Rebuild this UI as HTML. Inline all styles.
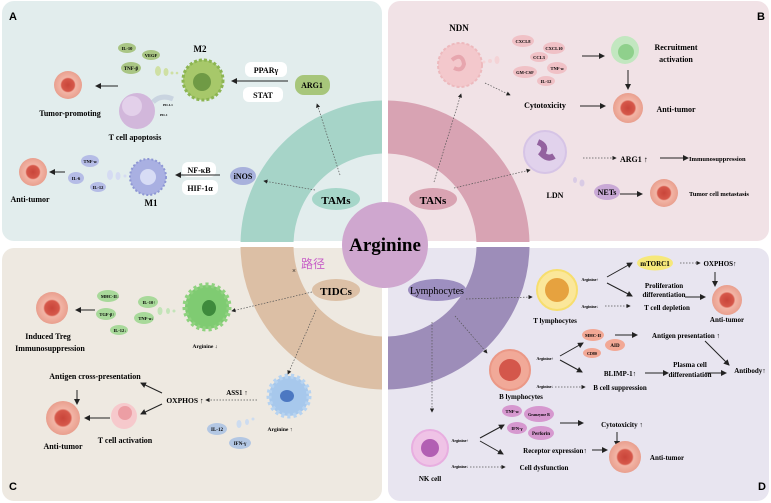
<!DOCTYPE html>
<html><head><meta charset="utf-8"><style>
body{margin:0;background:#fff;}
svg{display:block;font-family:"Liberation Serif",serif;}
.b{font-weight:bold;}
</style></head><body>
<svg width="771" height="503" viewBox="0 0 771 503" xmlns="http://www.w3.org/2000/svg">
<defs>
<marker id="ar" markerWidth="6" markerHeight="6" refX="5" refY="3" orient="auto"><path d="M0,0 L6,3 L0,6z" fill="#222"/></marker>
<radialGradient id="tum"><stop offset="0" stop-color="#c9453a"/><stop offset="0.45" stop-color="#d6584a"/><stop offset="0.55" stop-color="#f2b5a6"/><stop offset="1" stop-color="#e99f8e"/></radialGradient>
<clipPath id="cA"><rect x="0" y="0" width="382" height="242"/></clipPath>
<clipPath id="cB"><rect x="388" y="0" width="383" height="242"/></clipPath>
<clipPath id="cC"><rect x="0" y="247" width="382" height="256"/></clipPath>
<clipPath id="cD"><rect x="388" y="247" width="383" height="256"/></clipPath>
</defs>
<!-- panels -->
<rect x="2" y="1" width="380" height="240" rx="12" fill="#e2eded"/>
<rect x="388" y="1" width="381" height="240" rx="12" fill="#f1e2e6"/>
<rect x="2" y="248" width="380" height="253" rx="12" fill="#eee9e1"/>
<rect x="388" y="248" width="381" height="253" rx="12" fill="#e8e5f0"/>
<!-- ring -->
<g clip-path="url(#cA)"><circle cx="385" cy="245" r="118" fill="none" stroke="#a6d4c8" stroke-width="53"/></g>
<g clip-path="url(#cB)"><circle cx="385" cy="245" r="118" fill="none" stroke="#d8a3b3" stroke-width="53"/></g>
<g clip-path="url(#cC)"><circle cx="385" cy="245" r="118" fill="none" stroke="#dcbfa5" stroke-width="53"/></g>
<g clip-path="url(#cD)"><circle cx="385" cy="245" r="118" fill="none" stroke="#9d8db9" stroke-width="53"/></g>
<circle cx="385" cy="245" r="43" fill="#cfa7cf"/>
<text x="385" y="251" text-anchor="middle" class="b" font-size="19">Arginine</text>
<ellipse cx="336" cy="199" rx="24" ry="11" fill="#a6d6c9"/><text x="336" y="204" text-anchor="middle" class="b" font-size="11">TAMs</text>
<ellipse cx="433" cy="199" rx="24" ry="11" fill="#d9a3b2"/><text x="433" y="204" text-anchor="middle" class="b" font-size="11">TANs</text>
<ellipse cx="336" cy="290" rx="24" ry="11" fill="#dcc0a6"/><text x="336" y="295" text-anchor="middle" class="b" font-size="11">TIDCs</text>
<ellipse cx="437" cy="290" rx="29" ry="11" fill="#9d8fc0"/><text x="437" y="294" text-anchor="middle" font-size="10">Lymphocytes</text>
<text x="301" y="268" font-size="12" fill="#c85fc8" font-family="'Noto Sans CJK SC',sans-serif">路径</text>
<text x="292" y="273" font-size="7">×</text>

<g font-family="Liberation Sans,sans-serif" font-weight="bold" font-size="11">
<text x="9" y="20">A</text><text x="757" y="20">B</text><text x="9" y="490">C</text><text x="758" y="490">D</text></g>

<!-- Panel A -->
<g class="b" font-size="8">
<text x="200" y="52" text-anchor="middle" font-size="9">M2</text>
<circle cx="203" cy="80" r="20" fill="#a7c86a" stroke="#8cb552" stroke-width="3" stroke-dasharray="3 2"/>
<circle cx="202" cy="82" r="9" fill="#6f9a45"/>
<rect x="245" y="62" width="42" height="15" rx="6" fill="#fff"/><text x="266" y="73" text-anchor="middle">PPARγ</text>
<rect x="243" y="87" width="40" height="15" rx="6" fill="#fff"/><text x="263" y="98" text-anchor="middle">STAT</text>
<rect x="295" y="75" width="35" height="20" rx="9" fill="#a7c67b"/><text x="312" y="88" text-anchor="middle">ARG1</text>
<line x1="288" y1="81" x2="232" y2="81" stroke="#222" marker-end="url(#ar)"/>
<ellipse cx="127" cy="48" rx="9" ry="5" fill="#a9c584"/><text x="127" y="50" text-anchor="middle" font-size="4.5">IL-10</text>
<ellipse cx="151" cy="55" rx="9" ry="5" fill="#a9c584"/><text x="151" y="57" text-anchor="middle" font-size="4.5">VEGF</text>
<ellipse cx="131" cy="68" rx="10" ry="6" fill="#a9c584"/><text x="131" y="70" text-anchor="middle" font-size="5">TNF-β</text>
<ellipse cx="158" cy="71" rx="3" ry="5" fill="#cfe0a4"/><ellipse cx="166" cy="72" rx="2.5" ry="4" fill="#cfe0a4"/><circle cx="172" cy="73" r="1.5" fill="#cfe0a4"/><circle cx="177" cy="73" r="1.3" fill="#cfe0a4"/>
<circle cx="68" cy="85" r="14" fill="url(#tum)"/>
<line x1="118" y1="86" x2="96" y2="86" stroke="#222" marker-end="url(#ar)"/>
<text x="70" y="116" text-anchor="middle">Tumor-promoting</text>
<circle cx="137" cy="111" r="18" fill="#d2b7db"/><circle cx="132" cy="106" r="10" fill="#e3d0ea"/>
<path d="M153,102 q8,-8 20,-3" stroke="#c9d4e0" stroke-width="5" fill="none"/>
<text x="163" y="106" font-size="3.5">PD-L1</text><text x="160" y="116" font-size="3.5">PD-1</text>
<text x="135" y="140" text-anchor="middle">T cell apoptosis</text>
<circle cx="148" cy="177" r="18" fill="#a9b0e2" stroke="#8e97d4" stroke-width="2" stroke-dasharray="2 2"/><circle cx="148" cy="177" r="8" fill="#d7dcf5"/>
<text x="151" y="206" text-anchor="middle" font-size="9">M1</text>
<rect x="182" y="162" width="34" height="15" rx="6" fill="#fff"/><text x="199" y="173" text-anchor="middle">NF-κB</text>
<rect x="182" y="180" width="36" height="15" rx="6" fill="#fff"/><text x="200" y="191" text-anchor="middle">HIF-1α</text>
<ellipse cx="243" cy="176" rx="13" ry="9" fill="#a8b1dc"/><text x="243" y="179" text-anchor="middle">iNOS</text>
<line x1="220" y1="175" x2="176" y2="175" stroke="#222" marker-end="url(#ar)"/>
<ellipse cx="90" cy="161" rx="9" ry="6" fill="#b5bce6"/><text x="90" y="163" text-anchor="middle" font-size="4.5">TNF-α</text>
<ellipse cx="76" cy="178" rx="8" ry="6" fill="#b5bce6"/><text x="76" y="180" text-anchor="middle" font-size="4.5">IL-6</text>
<ellipse cx="98" cy="187" rx="8" ry="5" fill="#b5bce6"/><text x="98" y="189" text-anchor="middle" font-size="4.5">IL-12</text>
<ellipse cx="110" cy="175" rx="3" ry="5" fill="#d5dbf2"/><ellipse cx="118" cy="176" rx="2.5" ry="4" fill="#d5dbf2"/><circle cx="125" cy="176" r="1.5" fill="#d5dbf2"/>
<circle cx="33" cy="172" r="14" fill="url(#tum)"/>
<line x1="65" y1="172" x2="50" y2="172" stroke="#222" marker-end="url(#ar)"/>
<text x="30" y="202" text-anchor="middle">Anti-tumor</text>
</g>
<line x1="340" y1="175" x2="317" y2="104" stroke="#555" stroke-width="0.7" stroke-dasharray="1.5 1.5" marker-end="url(#ar)"/>
<line x1="315" y1="190" x2="264" y2="181" stroke="#555" stroke-width="0.7" stroke-dasharray="1.5 1.5" marker-end="url(#ar)"/>

<!-- Panel B -->
<g class="b" font-size="8">
<text x="459" y="31" text-anchor="middle" font-size="9">NDN</text>
<circle cx="460" cy="65" r="22" fill="#f3c8cc" stroke="#edb9bd" stroke-width="2" stroke-dasharray="3 2"/>
<path d="M452,60 q10,-8 12,4 q-2,8 -10,4" stroke="#e7a6ae" stroke-width="4" fill="none"/>
<g font-size="4.5" text-anchor="middle">
<ellipse cx="523" cy="41" rx="11" ry="6" fill="#f0c1c6"/><text x="523" y="43">CXCL8</text>
<ellipse cx="554" cy="48" rx="11" ry="6" fill="#f0c1c6"/><text x="554" y="50">CXCL10</text>
<ellipse cx="539" cy="57" rx="9" ry="5" fill="#f0c1c6"/><text x="539" y="59">CCL3</text>
<ellipse cx="557" cy="68" rx="10" ry="6" fill="#f0c1c6"/><text x="557" y="70">TNF-α</text>
<ellipse cx="525" cy="72" rx="12" ry="6" fill="#f0c1c6"/><text x="525" y="74">GM-CSF</text>
<ellipse cx="546" cy="81" rx="9" ry="5" fill="#f0c1c6"/><text x="546" y="83">IL-12</text></g>
<ellipse cx="497" cy="60" rx="2.5" ry="4" fill="#f4d3d6"/><circle cx="490" cy="61" r="2" fill="#f4d3d6"/><circle cx="484" cy="62" r="1.5" fill="#f4d3d6"/>
<line x1="582" y1="56" x2="604" y2="56" stroke="#222" marker-end="url(#ar)"/>
<circle cx="625" cy="50" r="14" fill="#c2e7c0"/><circle cx="626" cy="52" r="8" fill="#8fd08c"/>
<text x="676" y="50" text-anchor="middle">Recruitment</text><text x="676" y="62" text-anchor="middle">activation</text>
<line x1="628" y1="70" x2="628" y2="89" stroke="#222" marker-end="url(#ar)"/>
<text x="545" y="108" text-anchor="middle">Cytotoxicity</text>
<line x1="580" y1="106" x2="605" y2="106" stroke="#222" marker-end="url(#ar)"/>
<circle cx="628" cy="108" r="15" fill="url(#tum)"/>
<text x="676" y="112" text-anchor="middle">Anti-tumor</text>
<circle cx="545" cy="152" r="21" fill="#e1d2ec" stroke="#d6c4e6" stroke-width="2"/>
<path d="M538,142 q10,4 4,12 q6,6 12,2" stroke="#93629f" stroke-width="6" fill="none"/>
<text x="555" y="198" text-anchor="middle">LDN</text>
<line x1="583" y1="158" x2="616" y2="158" stroke="#555" stroke-width="0.7" stroke-dasharray="1.5 1.5" marker-end="url(#ar)"/>
<text x="620" y="162">ARG1 ↑</text>
<line x1="660" y1="158" x2="688" y2="158" stroke="#222" marker-end="url(#ar)"/>
<text x="689" y="161" font-size="6.5">Immunosuppression</text>
<ellipse cx="575" cy="180" rx="2" ry="3" fill="#d9cbe5"/><ellipse cx="582" cy="183" rx="2.5" ry="3.5" fill="#d9cbe5"/>
<ellipse cx="607" cy="192" rx="13" ry="8" fill="#c9a9d6"/><text x="607" y="195" text-anchor="middle">NETs</text>
<line x1="620" y1="194" x2="642" y2="194" stroke="#222" marker-end="url(#ar)"/>
<circle cx="664" cy="193" r="14" fill="url(#tum)"/>
<text x="689" y="196" font-size="6.5">Tumor cell metastasis</text>
</g>
<line x1="485" y1="83" x2="510" y2="95" stroke="#555" stroke-width="0.7" stroke-dasharray="1.5 1.5" marker-end="url(#ar)"/>
<line x1="434" y1="182" x2="461" y2="94" stroke="#555" stroke-width="0.7" stroke-dasharray="1.5 1.5" marker-end="url(#ar)"/>
<line x1="454" y1="188" x2="530" y2="170" stroke="#555" stroke-width="0.7" stroke-dasharray="1.5 1.5" marker-end="url(#ar)"/>

<!-- Panel C -->
<g class="b" font-size="8">
<circle cx="207" cy="307" r="22" fill="#7fcb72" stroke="#8fd27f" stroke-width="5" stroke-dasharray="3 3"/><ellipse cx="209" cy="308" rx="7" ry="8" fill="#3e8a3c"/>
<text x="205" y="348" text-anchor="middle" font-size="5.5">Arginine ↓</text>
<g font-size="4.5" text-anchor="middle">
<ellipse cx="108" cy="296" rx="11" ry="6" fill="#a8d99a"/><text x="110" y="298">MHC-II↓</text>
<ellipse cx="148" cy="302" rx="10" ry="6" fill="#a8d99a"/><text x="149" y="304">IL-10↑</text>
<ellipse cx="106" cy="314" rx="10" ry="6" fill="#a8d99a"/><text x="107" y="316">TGF-β↑</text>
<ellipse cx="144" cy="318" rx="10" ry="6" fill="#a8d99a"/><text x="146" y="320">TNF-α↓</text>
<ellipse cx="119" cy="330" rx="9" ry="5" fill="#a8d99a"/><text x="120" y="332">IL-12↓</text></g>
<ellipse cx="160" cy="311" rx="2.5" ry="4" fill="#c3e4b8"/><ellipse cx="168" cy="311" rx="2" ry="3" fill="#c3e4b8"/><circle cx="174" cy="311" r="1.5" fill="#c3e4b8"/>
<line x1="95" y1="310" x2="76" y2="310" stroke="#222" marker-end="url(#ar)"/>
<circle cx="52" cy="308" r="16" fill="url(#tum)"/>
<text x="48" y="339" text-anchor="middle">Induced Treg</text>
<text x="50" y="351" text-anchor="middle">Immunosuppression</text>
<circle cx="289" cy="396" r="20" fill="#a7c8ec" stroke="#b6d3f1" stroke-width="5" stroke-dasharray="3 3"/><ellipse cx="287" cy="396" rx="7" ry="6" fill="#4c78c2"/>
<text x="280" y="431" text-anchor="middle" font-size="5.5">Arginine ↑</text>
<text x="237" y="395" text-anchor="middle" font-size="7">ASS1 ↑</text>
<text x="185" y="403" text-anchor="middle" font-size="7.5">OXPHOS ↑</text>
<text x="95" y="379" text-anchor="middle">Antigen cross-presentation</text>
<line x1="77" y1="390" x2="77" y2="404" stroke="#222" marker-end="url(#ar)"/>
<circle cx="63" cy="418" r="17" fill="url(#tum)"/>
<line x1="110" y1="418" x2="85" y2="418" stroke="#222" marker-end="url(#ar)"/>
<text x="63" y="449" text-anchor="middle">Anti-tumor</text>
<circle cx="124" cy="416" r="13" fill="#f6c9cc"/><circle cx="125" cy="413" r="7" fill="#ec9ea4"/>
<text x="125" y="443" text-anchor="middle">T cell activation</text>
<ellipse cx="217" cy="429" rx="10" ry="6" fill="#b3c7e3"/><text x="217" y="431" text-anchor="middle" font-size="5">IL-12</text>
<ellipse cx="240" cy="443" rx="11" ry="6" fill="#b3c7e3"/><text x="240" y="445" text-anchor="middle" font-size="5">IFN-γ</text>
<ellipse cx="239" cy="424" rx="2.5" ry="4" fill="#cddcf0"/><ellipse cx="247" cy="422" rx="2" ry="3" fill="#cddcf0"/><circle cx="253" cy="419" r="1.5" fill="#cddcf0"/>
</g>
<line x1="162" y1="393" x2="141" y2="383" stroke="#222" marker-end="url(#ar)"/>
<line x1="162" y1="404" x2="141" y2="414" stroke="#222" marker-end="url(#ar)"/>
<line x1="257" y1="400" x2="206" y2="400" stroke="#555" stroke-width="0.7" stroke-dasharray="1.5 1.5" marker-end="url(#ar)"/>
<line x1="312" y1="292" x2="232" y2="311" stroke="#555" stroke-width="0.7" stroke-dasharray="1.5 1.5" marker-end="url(#ar)"/>
<line x1="316" y1="310" x2="288" y2="374" stroke="#555" stroke-width="0.7" stroke-dasharray="1.5 1.5" marker-end="url(#ar)"/>

<!-- Panel D -->
<g class="b" font-size="7">
<circle cx="557" cy="290" r="20" fill="#fbe79a" stroke="#f7de6e" stroke-width="2"/><circle cx="557" cy="290" r="12" fill="#e6a23f"/>
<text x="555" y="323" text-anchor="middle">T lymphocytes</text>
<text x="590" y="281" text-anchor="middle" font-size="4">Arginine↑</text>
<ellipse cx="655" cy="263" rx="18" ry="7.5" fill="#f6e87a"/><text x="655" y="266" text-anchor="middle">mTORC1</text>
<text x="720" y="266" text-anchor="middle">OXPHOS↑</text>
<line x1="715" y1="272" x2="715" y2="286" stroke="#222" marker-end="url(#ar)"/>
<text x="664" y="288" text-anchor="middle">Proliferation</text><text x="664" y="297" text-anchor="middle">differentiation</text>
<line x1="685" y1="297" x2="705" y2="297" stroke="#222" marker-end="url(#ar)"/>
<circle cx="727" cy="300" r="15" fill="url(#tum)"/>
<text x="727" y="322" text-anchor="middle">Anti-tumor</text>
<text x="590" y="308" text-anchor="middle" font-size="4">Arginine↓</text>
<text x="667" y="310" text-anchor="middle">T cell depletion</text>
<circle cx="510" cy="370" r="20" fill="#f1a998" stroke="#eb9886" stroke-width="2"/><circle cx="510" cy="370" r="11" fill="#d4574b"/>
<text x="521" y="399" text-anchor="middle">B lymphocytes</text>
<text x="545" y="360" text-anchor="middle" font-size="4">Arginine↑</text>
<ellipse cx="593" cy="335" rx="11" ry="6" fill="#f2a895"/><text x="593" y="337" text-anchor="middle" font-size="4.5">MHC-II</text>
<ellipse cx="615" cy="345" rx="10" ry="6" fill="#f2a895"/><text x="615" y="347" text-anchor="middle" font-size="5">AID</text>
<ellipse cx="592" cy="353" rx="9" ry="5" fill="#f2a895"/><text x="592" y="355" text-anchor="middle" font-size="4">CD80</text>
<text x="686" y="338" text-anchor="middle">Antigen presentation ↑</text>
<text x="750" y="373" text-anchor="middle">Antibody↑</text>
<text x="620" y="376" text-anchor="middle">BLIMP-1↑</text>
<text x="690" y="367" text-anchor="middle">Plasma cell</text><text x="690" y="377" text-anchor="middle">differentiation</text>
<text x="545" y="388" text-anchor="middle" font-size="4">Arginine↓</text>
<text x="620" y="390" text-anchor="middle">B cell suppression</text>
<circle cx="430" cy="448" r="18" fill="#efc3e6" stroke="#e8aee0" stroke-width="2"/><circle cx="430" cy="448" r="9" fill="#b25fb3"/>
<text x="430" y="481" text-anchor="middle">NK cell</text>
<text x="460" y="442" text-anchor="middle" font-size="4">Arginine↑</text>
<ellipse cx="512" cy="411" rx="10" ry="6" fill="#d698cf"/><text x="512" y="413" text-anchor="middle" font-size="4.5">TNF-α</text>
<ellipse cx="539" cy="414" rx="15" ry="8" fill="#d698cf"/><text x="539" y="416" text-anchor="middle" font-size="4">Granzyme B</text>
<ellipse cx="517" cy="428" rx="10" ry="6" fill="#d698cf"/><text x="517" y="430" text-anchor="middle" font-size="4.5">IFN-γ</text>
<ellipse cx="541" cy="433" rx="13" ry="7" fill="#d698cf"/><text x="541" y="435" text-anchor="middle" font-size="5">Perforin</text>
<text x="622" y="427" text-anchor="middle">Cytotoxicity ↑</text>
<line x1="617" y1="432" x2="617" y2="446" stroke="#222" marker-end="url(#ar)"/>
<text x="555" y="453" text-anchor="middle">Receptor expression↑</text>
<circle cx="625" cy="457" r="16" fill="url(#tum)"/>
<text x="667" y="460" text-anchor="middle">Anti-tumor</text>
<text x="460" y="468" text-anchor="middle" font-size="4">Arginine↓</text>
<text x="544" y="470" text-anchor="middle">Cell dysfunction</text>
</g>
<g stroke="#222" fill="none">
<line x1="607" y1="277" x2="632" y2="263" marker-end="url(#ar)"/>
<line x1="607" y1="283" x2="632" y2="296" marker-end="url(#ar)"/>
<line x1="560" y1="356" x2="583" y2="343" marker-end="url(#ar)"/>
<line x1="560" y1="360" x2="582" y2="372" marker-end="url(#ar)"/>
<line x1="615" y1="335" x2="637" y2="335" marker-end="url(#ar)"/>
<line x1="705" y1="341" x2="729" y2="365" marker-end="url(#ar)"/>
<line x1="645" y1="373" x2="668" y2="373" marker-end="url(#ar)"/>
<line x1="705" y1="373" x2="726" y2="373" marker-end="url(#ar)"/>
<line x1="480" y1="438" x2="504" y2="425" marker-end="url(#ar)"/>
<line x1="480" y1="441" x2="503" y2="454" marker-end="url(#ar)"/>
<line x1="560" y1="423" x2="583" y2="423" marker-end="url(#ar)"/>
<line x1="592" y1="450" x2="607" y2="450" marker-end="url(#ar)"/>
</g>
<g stroke="#555" stroke-width="0.7" stroke-dasharray="1.5 1.5" fill="none">
<line x1="680" y1="263" x2="700" y2="263" marker-end="url(#ar)"/>
<line x1="605" y1="306" x2="630" y2="306" marker-end="url(#ar)"/>
<line x1="466" y1="299" x2="532" y2="297" marker-end="url(#ar)"/>
<line x1="455" y1="316" x2="487" y2="353" marker-end="url(#ar)"/>
<line x1="555" y1="387" x2="585" y2="387" marker-end="url(#ar)"/>
<line x1="432" y1="322" x2="432" y2="412" marker-end="url(#ar)"/>
<line x1="470" y1="467" x2="505" y2="467" marker-end="url(#ar)"/>
</g>
</svg>
</body></html>
